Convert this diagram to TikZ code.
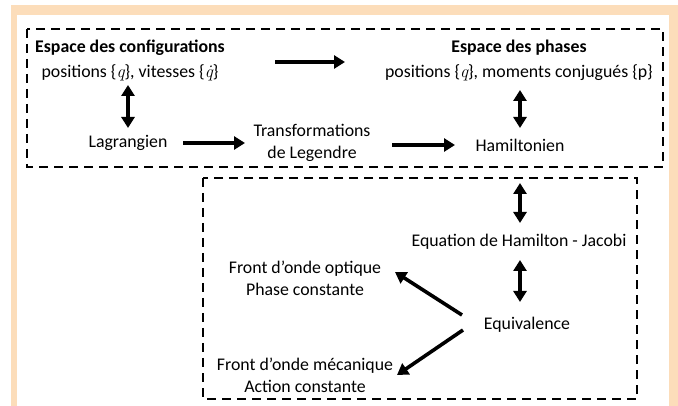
\documentclass[tikz,border=0pt]{standalone}
\usepackage{fontspec}
\setmainfont{Carlito}
\newfontfamily\qfont{Latin Modern Roman}
\usepackage{tikz}
\usetikzlibrary{arrows.meta,positioning,calc}
\definecolor{peach}{RGB}{252,221,186}
\newcommand{\qvar}{{\qfont\itshape q}}
\newcommand{\qdotvar}{{\qfont\itshape q^^^^0307}}

\begin{document}
\begin{tikzpicture}[x=1pt, y=-1pt,
    txt/.style={align=center, inner sep=2pt, font=\fontsize{17.8}{22}\selectfont},
    head/.style={txt, font=\fontsize{17.8}{25}\selectfont},
    zone/.style={draw, dash pattern=on 9pt off 6pt, line width=2pt},
    edge/.style={-{Triangle[length=11pt, width=13pt]}, line width=3.6pt},
    both/.style={{Triangle[length=11pt, width=13pt]}-{Triangle[length=11pt, width=13pt]}, line width=3.6pt}
  ]
    \useasboundingbox (0,0) rectangle (678,406);
    \fill[peach] (11,5) rectangle (678,406);
    \fill[white] (17,15) rectangle (669,406);
    \draw[zone] (27,29) rectangle (663,167);
    \draw[zone] (203,178) rectangle (637,399);

    \node[head] (cfg) at (130,60) {\textbf{Espace des configurations}\\positions \{\qvar\}, vitesses \{\qdotvar\}};
    \node[head] (phs) at (519,60) {\textbf{Espace des phases}\\positions \{\qvar\}, moments conjugués \{p\}};
    \node[txt] (lag) at (128,143) {Lagrangien};
    \node[txt] (leg) at (312,143) {Transformations\\de Legendre};
    \node[txt] (ham) at (520,145) {Hamiltonien};
    \node[txt] (hj) at (519,242) {Equation de Hamilton - Jacobi};
    \node[txt] (eqv) at (527,325) {Equivalence};
    \node[txt] (opt) at (305,278) {Front d'onde optique\\Phase constante};
    \node[txt] (mec) at (305,375) {Front d'onde mécanique\\Action constante};

    \draw[edge] ($(cfg)+(145,2)$) -- ($(phs)+(-174,2)$);
    \draw[both] ($(cfg)+(-2,25)$) -- ($(lag)+(0,-15)$);
    \draw[edge] ($(lag)+(55,0)$) -- ($(leg)+(-67,0)$);
    \draw[edge] ($(leg)+(80,2)$) -- ($(ham)+(-65,0)$);
    \draw[both] ($(phs)+(1,30)$) -- ($(ham)+(0,-17)$);
    \draw[both] ($(ham)+(0,38)$) -- ($(hj)+(1,-19)$);
    \draw[both] ($(hj)+(1,18)$) -- ($(eqv)+(-7,-23)$);
    \draw[edge] ($(eqv)+(-65,-10)$) -- ($(opt)+(90,-6)$);
    \draw[edge] ($(eqv)+(-64,5)$) -- ($(mec)+(92,0)$);
  \end{tikzpicture}
\end{document}
